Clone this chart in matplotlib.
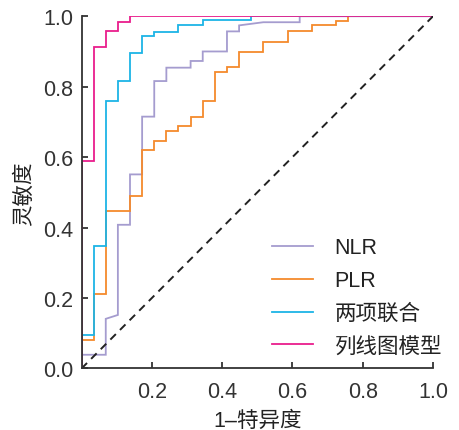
import matplotlib
matplotlib.use("Agg")
import matplotlib.pyplot as plt
import numpy as np

# ROC vertices, fpr in units of 1/29 (29 negatives)
nlr_fpr = np.array([0, 0, 2, 2, 3, 3, 4, 4, 5, 5, 6, 6, 7, 7, 9, 9, 10, 10, 12, 12, 13, 13, 15, 18, 18, 29]) / 29
nlr_tpr = [0, 0.039, 0.039, 0.141, 0.152, 0.408, 0.408, 0.551, 0.551, 0.715, 0.715, 0.816, 0.816, 0.854,
           0.854, 0.873, 0.873, 0.900, 0.900, 0.957, 0.957, 0.974, 0.983, 0.983, 1.0, 1.0]

plr_fpr = np.array([0, 0, 1, 1, 2, 2, 4, 4, 5, 5, 6, 6, 7, 7, 8, 8, 9, 9, 10, 10, 11, 11, 12, 12, 13, 13,
                    15, 15, 17, 17, 19, 19, 21, 21, 22, 22, 29]) / 29
plr_tpr = [0, 0.081, 0.081, 0.212, 0.212, 0.448, 0.448, 0.489, 0.489, 0.619, 0.619, 0.647, 0.647, 0.673,
           0.673, 0.688, 0.688, 0.715, 0.715, 0.759, 0.759, 0.843, 0.843, 0.856, 0.856, 0.898, 0.898, 0.927,
           0.927, 0.958, 0.958, 0.974, 0.974, 0.986, 0.986, 1.0, 1.0]

comb_fpr = np.array([0, 0, 1, 1, 2, 2, 3, 3, 4, 4, 5, 5, 6, 6, 8, 8, 10, 10, 14, 14, 29]) / 29
comb_tpr = [0, 0.096, 0.096, 0.349, 0.349, 0.758, 0.758, 0.815, 0.815, 0.896, 0.896, 0.943, 0.943, 0.955,
            0.955, 0.974, 0.974, 0.988, 0.988, 1.0, 1.0]

nomo_fpr = np.array([0, 0, 1, 1, 2, 2, 3, 3, 4, 4, 29]) / 29
nomo_tpr = [0, 0.59, 0.59, 0.912, 0.912, 0.957, 0.957, 0.983, 0.983, 1.0, 1.0]

labels = ["NLR", "PLR", "两项联合", "列线图模型"]
colors = ["#a59ccf", "#f58a2c", "#1cb4e6", "#e91e8c"]
ticks = [0.0, 0.2, 0.4, 0.6, 0.8, 1.0]

fonts = ["Liberation Sans", "Noto Sans CJK SC"]
plt.rcParams["font.family"] = fonts

fig = plt.figure(figsize=(4.59, 4.31), dpi=100)
ax = fig.add_axes([0.1776, 0.1427, 0.7658, 0.8173])

curves = [(nlr_fpr, nlr_tpr), (plr_fpr, plr_tpr), (comb_fpr, comb_tpr), (nomo_fpr, nomo_tpr)]
for (fx, ty), lab, c in zip(curves, labels, colors):
    ax.plot(fx, ty, color=c, lw=1.3, label=lab, solid_joinstyle="miter")

ax.plot([0, 1], [0, 1], color="#222222", lw=1.4, ls=(0, (4, 3)))

ax.set_xlim(0, 1)
ax.set_ylim(0, 1)
ax.set_xticks(ticks[1:])
ax.set_xticklabels([f"{t:.1f}" for t in ticks[1:]])
ax.set_yticks(ticks)
ax.set_yticklabels([f"{t:.1f}" for t in ticks])

for s in ["top", "right"]:
    ax.spines[s].set_visible(False)
for s in ["left", "bottom"]:
    ax.spines[s].set_color("#333333")
    ax.spines[s].set_linewidth(1.3)

ax.tick_params(direction="in", length=4, width=1.3, colors="#333333", labelsize=15.5, pad=9)
ax.tick_params(axis="y", pad=6)

ax.set_xlabel("1–特异度", fontsize=15.5, color="#222222", labelpad=6)
ax.set_ylabel("灵敏度", fontsize=15.5, color="#222222", labelpad=6)

leg = ax.legend(loc="lower left", bbox_to_anchor=(272 / 459, (431 - 358) / 431),
                bbox_transform=fig.transFigure, frameon=False, fontsize=15.5,
                handlelength=1.9, handletextpad=1.0, labelspacing=0.55,
                borderpad=0, borderaxespad=0)
for t in leg.get_texts():
    t.set_color("#222222")

fig.savefig("out.png", dpi=100)
